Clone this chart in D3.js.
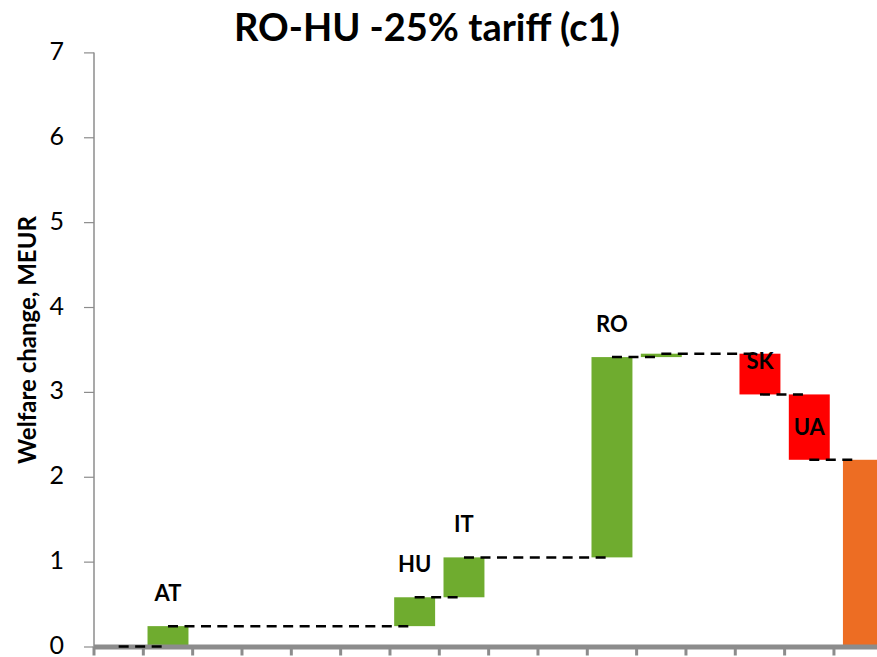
<!DOCTYPE html>
<html>
<head>
<meta charset="utf-8">
<script src="https://cdn.jsdelivr.net/npm/d3@7"></script>
<style>
  html, body { margin: 0; padding: 0; background: #fff; }
  svg { display: block; }
  text { font-family: Lato, "Open Sans", sans-serif; }
</style>
</head>
<body>
<svg id="chart" width="877" height="657"></svg>
<script>
// Waterfall steps: a zero start, one step per country, then the closing total
const labels = ["", "AT", "", "", "", "", "HU", "IT", "", "", "RO", "", "", "SK", "UA", ""];
const deltas = [0, 0.24, 0, 0, 0, 0, 0.34, 0.47, 0, 0, 2.36, 0.04, 0, -0.48, -0.77];
const yTicks = [0, 1, 2, 3, 4, 5, 6, 7];
const title = "RO-HU -25% tariff (c1)";
const yTitle = "Welfare change, MEUR";

const colors = { up: "#6fac2f", down: "#ff0000", total: "#ed6d23", axis: "#8c8c8c" };

// Build running totals for the floating bars
let run = 0;
const steps = deltas.map((d, i) => {
  const start = run;
  run += d;
  return { i, label: labels[i], start, end: run, kind: d >= 0 ? "up" : "down" };
});
steps.push({ i: deltas.length, label: labels[deltas.length], start: 0, end: run, kind: "total" });

const svg = d3.select("#chart");
const step = 49.33;
const x0 = 94;
const totalShift = 4.8; // the total series sits slightly right within its slot
const x = d3.scaleBand()
  .domain(steps.map(d => d.i))
  .range([x0, x0 + step * steps.length])
  .paddingInner(0.17)
  .paddingOuter(0.085);
const y = d3.scaleLinear().domain([0, 7]).range([646.5, 52.4]);
const cx = i => x(i) + x.bandwidth() / 2;

// Title
svg.append("text")
  .attr("x", 427).attr("y", 41)
  .attr("text-anchor", "middle")
  .attr("font-size", 38).attr("font-weight", "bold")
  .attr("fill", "#000")
  .text(title);

// Y axis title
svg.append("text")
  .attr("transform", "translate(36,340) rotate(-90)")
  .attr("text-anchor", "middle")
  .attr("font-size", 24).attr("font-weight", "bold")
  .attr("fill", "#000")
  .text(yTitle);

// Bars
svg.append("g").selectAll("rect")
  .data(steps.filter(d => d.end !== d.start))
  .join("rect")
  .attr("x", d => x(d.i) + (d.kind === "total" ? totalShift : 0))
  .attr("width", x.bandwidth())
  .attr("y", d => y(Math.max(d.start, d.end)))
  .attr("height", d => Math.abs(y(d.start) - y(d.end)))
  .attr("fill", d => colors[d.kind]);

// Y axis
const yAxis = svg.append("g")
  .attr("transform", `translate(${x0},0)`)
  .call(d3.axisLeft(y).tickValues(yTicks).tickSize(10).tickPadding(20).tickFormat(d3.format("d")));
yAxis.select(".domain").attr("stroke", colors.axis).attr("stroke-width", 1.5)
  .attr("d", `M0,${y(7)}V${y(0)}`);
yAxis.selectAll(".tick line").attr("stroke", colors.axis).attr("stroke-width", 1.2);
yAxis.selectAll(".tick text")
  .attr("font-family", "Lato, sans-serif")
  .attr("font-size", 25).attr("fill", "#000")
  .attr("dy", "0.28em");

// X axis: thick baseline with ticks at category boundaries
const bounds = d3.range(steps.length).map(i => x0 + i * step);
const xAxis = svg.append("g");
xAxis.selectAll("line.tick")
  .data(bounds)
  .join("line")
  .attr("class", "tick")
  .attr("x1", d => d).attr("x2", d => d)
  .attr("y1", y(0)).attr("y2", y(0) + 9)
  .attr("stroke", colors.axis).attr("stroke-width", 3);
xAxis.append("line")
  .attr("x1", x0).attr("x2", 877)
  .attr("y1", y(0) + 0.5).attr("y2", y(0) + 0.5)
  .attr("stroke", colors.axis).attr("stroke-width", 5);

// Dashed connectors from each bar's end level to the next bar
svg.append("g").selectAll("line")
  .data(steps.slice(0, -1))
  .join("line")
  .attr("x1", d => cx(d.i))
  .attr("x2", d => cx(d.i + 1))
  .attr("y1", d => y(d.end))
  .attr("y2", d => y(d.end))
  .attr("stroke", "#000")
  .attr("stroke-width", 2.5)
  .attr("stroke-dasharray", "10,6.5");

// Country labels sit above the running total after each step
svg.append("g").selectAll("text")
  .data(steps.filter(d => d.label))
  .join("text")
  .attr("x", d => cx(d.i))
  .attr("y", d => y(d.end) - 25)
  .attr("text-anchor", "middle")
  .attr("font-size", 22).attr("font-weight", "bold")
  .attr("fill", "#000")
  .text(d => d.label);
</script>
</body>
</html>
